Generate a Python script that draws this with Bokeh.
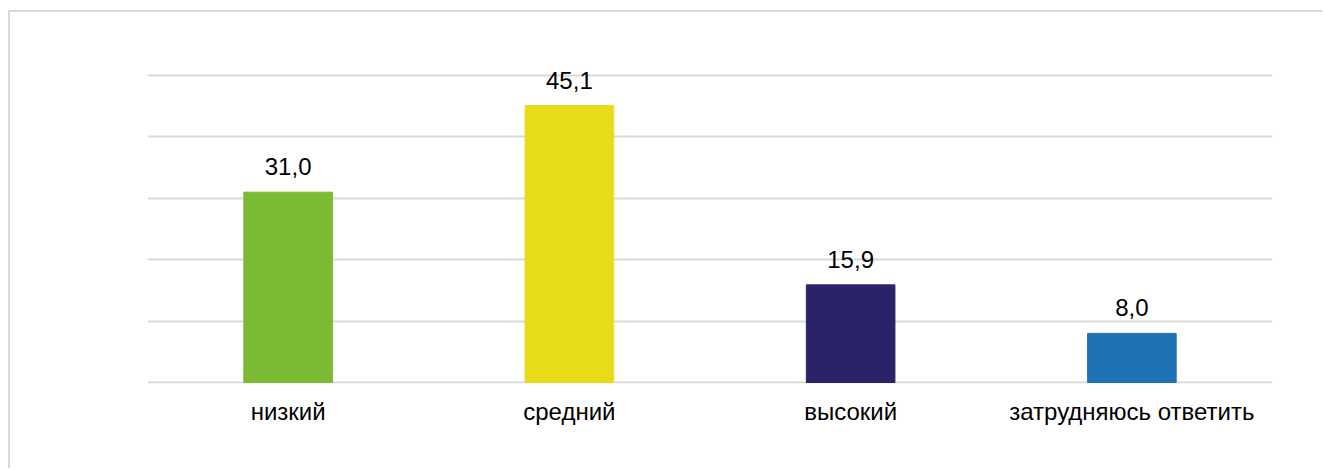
from bokeh.plotting import figure
from bokeh.models import ColumnDataSource, LabelSet, FixedTicker, Range1d
from bokeh.embed import file_html
from bokeh.resources import INLINE
from bokeh.core.properties import value

categories = ["низкий", "средний", "высокий", "затрудняюсь ответить"]
values = [31.0, 45.1, 15.9, 8.0]
labels = ["31,0", "45,1", "15,9", "8,0"]
colors = ["#7BBA33", "#E8DC1A", "#2B2369", "#1F72B3"]

src = ColumnDataSource(dict(cat=categories, val=values, lab=labels, col=colors))

p = figure(x_range=categories, y_range=Range1d(-0.163, 57.0), width=1314, height=458,
           output_backend="svg", toolbar_location=None,
           min_border_left=137, min_border_right=52, min_border_top=20, min_border_bottom=87)
p.styles = {"margin-left": "8px", "margin-top": "10px",
            "border-left": "2px solid #d9d9d9", "border-top": "2px solid #d9d9d9"}

p.vbar(x="cat", top="val", width=0.315, color="col", source=src)
p.add_layout(LabelSet(x="cat", y="val", text="lab", source=src, text_align="center",
                      text_baseline="alphabetic", y_offset=17, text_font=value("Liberation Sans"),
                      text_font_size="24px", text_color="#000000"))

p.outline_line_color = None
p.xgrid.grid_line_color = None
p.ygrid.grid_line_color = "#d9d9d9"
p.ygrid.grid_line_width = 2
p.yaxis.ticker = FixedTicker(ticks=[0, 10, 20, 30, 40, 50])
p.yaxis.visible = False
p.xaxis.axis_line_color = None
p.xaxis.major_tick_line_color = None
p.xaxis.minor_tick_line_color = None
p.xaxis.major_label_text_font = "Liberation Sans"
p.xaxis.major_label_text_font_size = "24px"
p.xaxis.major_label_text_color = "#000000"
p.xaxis.major_label_standoff = 8
p.x_range.range_padding = 0

open("out.html", "w").write(file_html(p, INLINE))
